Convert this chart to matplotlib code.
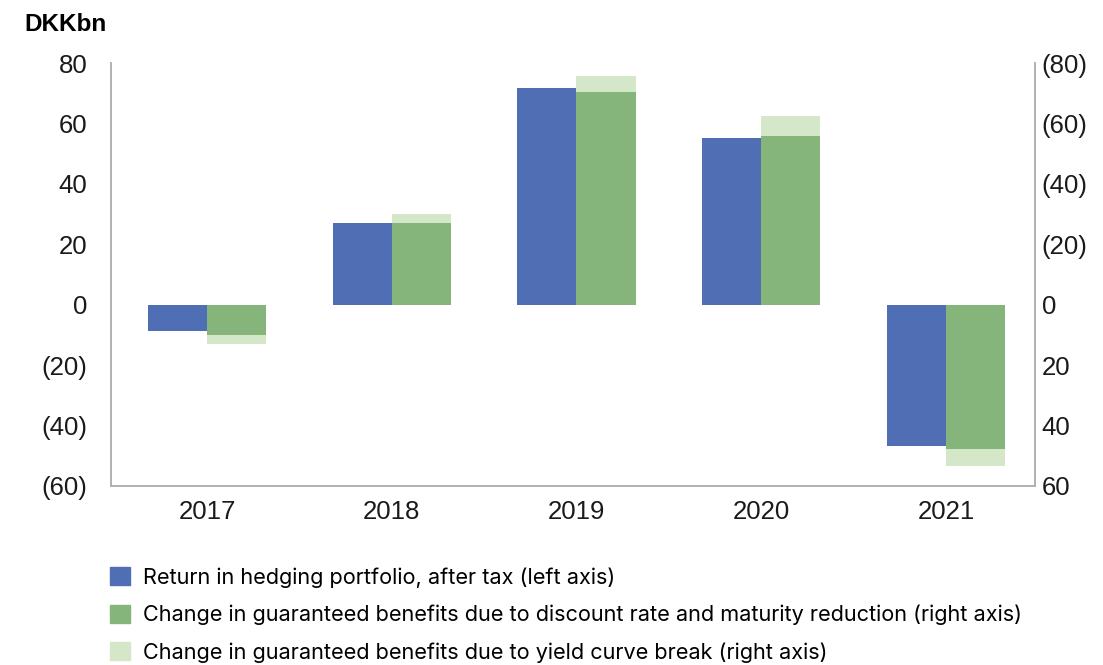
import matplotlib.pyplot as plt
from matplotlib.patches import Patch
from matplotlib.ticker import FuncFormatter
import numpy as np

plt.rcParams['font.family'] = ['Inter', 'DejaVu Sans']

# Data (DKKbn)
years = ['2017', '2018', '2019', '2020', '2021']
hedging_return = [-8.7, 27.2, 71.9, 55.1, -46.9]          # left axis
# right axis values (shown reversed: negative values on top)
benefits_discount = [10.1, -27.0, -70.6, -55.8, 47.8]
benefits_yield_break = [2.9, -3.0, -5.2, -6.6, 5.5]

legend_labels = [
    'Return in hedging portfolio, after tax (left axis)',
    'Change in guaranteed benefits due to discount rate and maturity reduction (right axis)',
    'Change in guaranteed benefits due to yield curve break (right axis)',
]

blue = '#4f6eb4'
green = '#86b57b'
light_green = '#d4e7c8'
spine_grey = '#b0b0b0'
tick_font = ['Liberation Sans', 'DejaVu Sans']


def paren_fmt(v, pos):
    if v < 0:
        return f'({abs(v):.0f})'
    return f'{v:.0f}'


fig = plt.figure(figsize=(11.03, 6.65), dpi=100)
ax = fig.add_axes([0.1006, 0.2692, 0.8374, 0.6358])
ax2 = ax.twinx()

x = np.arange(len(years)) + 0.02
w = 0.32

ax.bar(x - w / 2, hedging_return, width=w, color=blue)
ax2.bar(x + w / 2, benefits_discount, width=w, color=green)
ax2.bar(x + w / 2, benefits_yield_break, width=w, bottom=benefits_discount, color=light_green)

ax.set_xlim(-0.5, len(years) - 0.5)
ax.set_ylim(-60, 80)
ax2.set_ylim(60, -80)
ax.set_yticks(np.arange(-60, 81, 20))
ax2.set_yticks(np.arange(-80, 61, 20))
ax.yaxis.set_major_formatter(FuncFormatter(paren_fmt))
ax2.yaxis.set_major_formatter(FuncFormatter(paren_fmt))

ax.set_xticks(x)
ax.set_xticklabels(years)

for a in (ax, ax2):
    a.spines['top'].set_visible(False)
    for s in ('left', 'right', 'bottom'):
        a.spines[s].set_color(spine_grey)
        a.spines[s].set_linewidth(1.2)
    a.tick_params(axis='both', length=0, labelsize=18.5, colors='#1a1a1a')
    for lbl in a.get_xticklabels() + a.get_yticklabels():
        lbl.set_family(tick_font)
ax.tick_params(axis='y', pad=17)
ax2.tick_params(axis='y', pad=5)
ax.tick_params(axis='x', pad=10)

fig.text(0.022, 0.963, 'DKKbn', fontsize=17.5, fontweight='bold', va='center', ha='left',
         family=tick_font)

handles = [Patch(color=c) for c in (blue, green, light_green)]
fig.legend(handles, legend_labels, loc='upper left', bbox_to_anchor=(0.092, 0.16),
           frameon=False, fontsize=15.6, handlelength=0.9, handleheight=0.9,
           handletextpad=0.6, labelspacing=0.78, borderaxespad=0)

fig.savefig('out.png', dpi=100)
